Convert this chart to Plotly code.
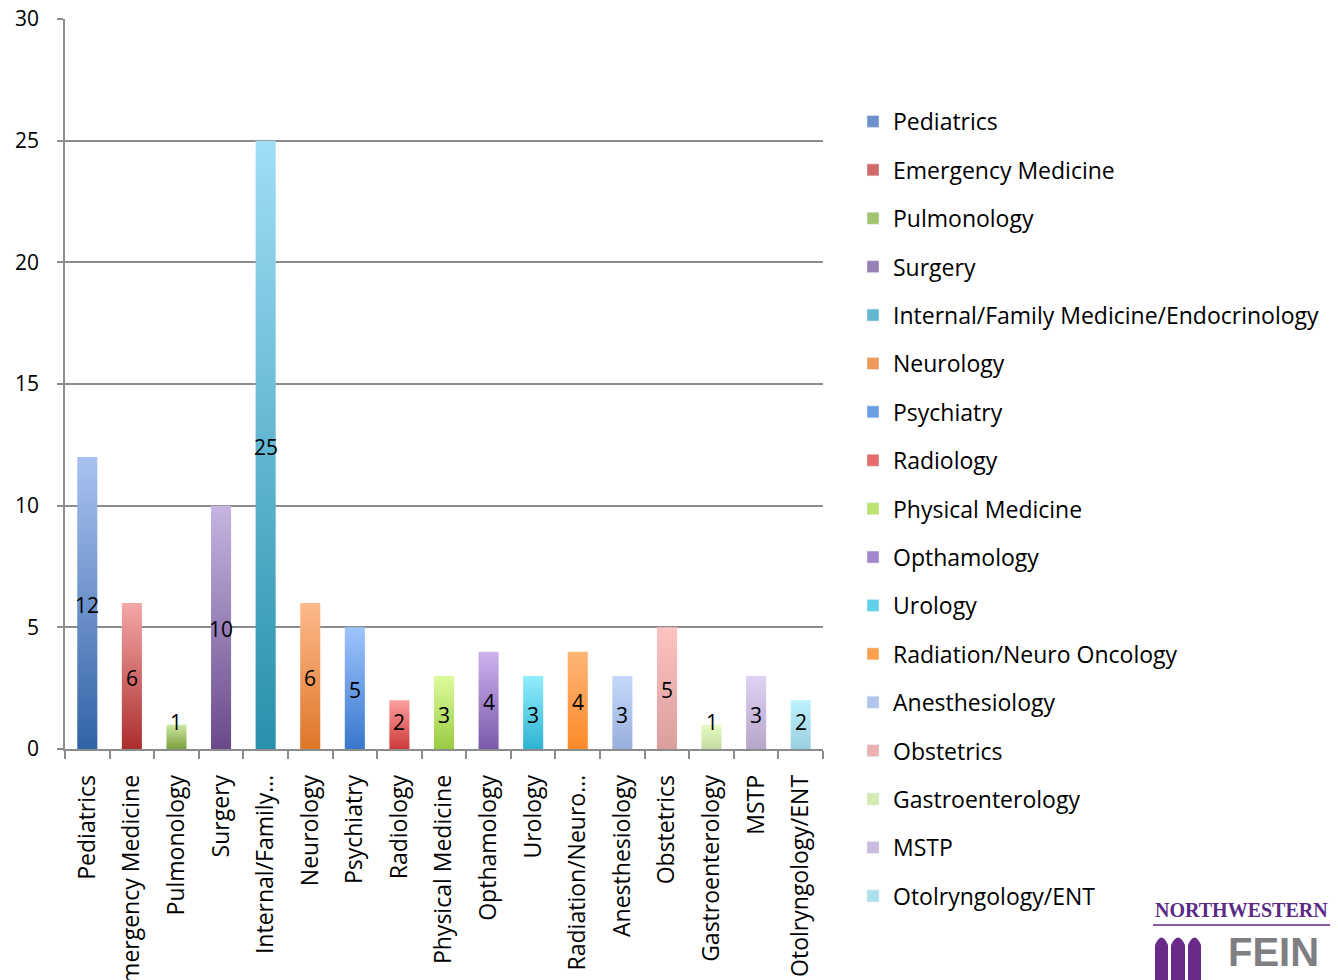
import plotly.graph_objects as go

categories = ["Pediatrics", "Emergency Medicine", "Pulmonology", "Surgery",
              "Internal/Family Medicine/Endocrinology", "Neurology", "Psychiatry",
              "Radiology", "Physical Medicine", "Opthamology", "Urology",
              "Radiation/Neuro Oncology", "Anesthesiology", "Obstetrics",
              "Gastroenterology", "MSTP", "Otolryngology/ENT"]
values = [12, 6, 1, 10, 25, 6, 5, 2, 3, 4, 3, 4, 3, 5, 1, 3, 2]
tick_labels = ["Pediatrics", "Emergency Medicine", "Pulmonology", "Surgery",
               "Internal/Family…", "Neurology", "Psychiatry", "Radiology",
               "Physical Medicine", "Opthamology", "Urology", "Radiation/Neuro…",
               "Anesthesiology", "Obstetrics", "Gastroenterology", "MSTP",
               "Otolryngology/ENT"]
colors_top = ["#a9c2f0", "#f4a8a8", "#cde8a4", "#c6b5e2", "#a0def6", "#fdba8c",
              "#9fc4fd", "#fc9e9e", "#ddfc9e", "#cdb2ee", "#92eefd", "#fdb676",
              "#c6d9fd", "#fdc2c2", "#e6fcc2", "#ded2f5", "#bef1fd"]
colors_bottom = ["#3263a6", "#ab2e2e", "#7ba03d", "#684a8a", "#2890ab", "#df7628",
                 "#3877cc", "#cf3b3b", "#9acb42", "#7a5aab", "#2eb3d3", "#fc8a2a",
                 "#99aeda", "#db9e9e", "#c2dba0", "#b6a6ca", "#9acfdf"]
legend_colors = ["#6d92cb", "#d06b6b", "#a4c470", "#9780b6", "#64b7d0", "#ee985a",
                 "#6c9ee4", "#e66c6c", "#bce370", "#a486cc", "#60d0e8", "#fca050",
                 "#b0c4ec", "#ecb0b0", "#d4ecb2", "#cabce0", "#ace0ee"]

FONT = "Open Sans"
FS_TXT = 23   # category / legend text
FS_NUM = 21   # numbers
GRAY = "#8c8c8c"
half = 0.225
positions = list(range(len(categories)))

fig = go.Figure()

for i, name, v, ct, cb in zip(positions, categories, values, colors_top, colors_bottom):
    fig.add_trace(go.Scatter(
        x=[i - half, i - half, i + half, i + half, i - half],
        y=[0, v, v, 0, 0],
        fill="toself", mode="none",
        fillgradient=dict(type="vertical", start=0, stop=v,
                          colorscale=[[0, cb], [1, ct]]),
        showlegend=False, hoverinfo="skip"))

for name, lc in zip(categories, legend_colors):
    fig.add_trace(go.Bar(x=[None], y=[None], name=name, marker_color=lc,
                         legendgroup=name, showlegend=True))

# value labels centred in each bar
for i, v in zip(positions, values):
    fig.add_annotation(x=i, y=max(v / 2, 1.2), text=str(v), showarrow=False,
                       xref="x", yref="y", yshift=-2,
                       font=dict(family=FONT, size=FS_NUM, color="black"))

# page has an 8px body margin: figure is drawn 8px lower/right
W, H = 1330, 972
fig.update_layout(
    width=W, height=H,
    margin=dict(l=57, r=515, t=11, b=231, autoexpand=False),
    paper_bgcolor="white", plot_bgcolor="white",
    font=dict(family=FONT, size=FS_TXT, color="black"),
    showlegend=True,
    legend=dict(x=(853 - 65) / 758, y=1 - 92 / H, yref="container",
                xanchor="left", yanchor="top", maxheight=950,
                traceorder="grouped", tracegroupgap=15.5,
                font=dict(family=FONT, size=FS_TXT, color="black")),
    xaxis=dict(range=[-0.5, 16.5], tickmode="array", tickvals=positions,
               ticktext=tick_labels, ticks="",
               minor=dict(tick0=0.5, dtick=1, ticks="outside", ticklen=8,
                          tickcolor=GRAY, tickwidth=1.5, showgrid=False),
               showline=True, linecolor=GRAY, linewidth=1.5,
               tickangle=-90, tickfont=dict(family=FONT, size=FS_TXT), showgrid=False,
               automargin=False, ticklabelstandoff=15, zeroline=False),
    yaxis=dict(range=[0, 30], dtick=5, ticks="outside", ticklen=6, tickcolor=GRAY,
               tickwidth=1.5, showline=True, linecolor=GRAY, linewidth=1.5,
               showgrid=True, gridcolor=GRAY, gridwidth=1.5, zeroline=False,
               tickfont=dict(family=FONT, size=FS_NUM), automargin=False,
               ticklabelstandoff=14, ticklabeloverflow="allow"),
)

# Logo (decorative)
fig.add_annotation(x=(1153 - 65) / 758, y=(749 - 910) / 730, xref="paper", yref="paper",
                   xanchor="left", yanchor="middle", showarrow=False,
                   text="<b>NORTHWESTERN</b>",
                   font=dict(family="Liberation Serif", size=20, color="#5b2a86"))
fig.add_shape(type="line", xref="paper", yref="paper",
              x0=(1153 - 65) / 758, x1=(1336 - 65) / 758,
              y0=(749 - 925) / 730, y1=(749 - 925) / 730,
              line=dict(color="#8a5aa8", width=2))
fig.add_annotation(x=(1226 - 65) / 758, y=(749 - 928) / 730, xref="paper", yref="paper",
                   xanchor="left", yanchor="top", showarrow=False,
                   text="<b>FEIN</b>",
                   font=dict(family="Liberation Sans", size=40, color="#7f7f82"))
for x0, x1 in [(1155, 1168), (1171, 1185), (1188, 1201)]:
    fig.add_shape(type="path", xref="paper", yref="paper",
                  path="M {a},{b} L {a},{c} Q {m},{d} {e},{c} L {e},{b} Z".format(
                      a=(x0 - 65) / 758, e=(x1 - 65) / 758, m=((x0 + x1) / 2 - 65) / 758,
                      b=(749 - 985) / 730, c=(749 - 945) / 730, d=(749 - 930) / 730),
                  fillcolor="#6a2a8a", line=dict(width=0))

fig.write_html("out.html")
